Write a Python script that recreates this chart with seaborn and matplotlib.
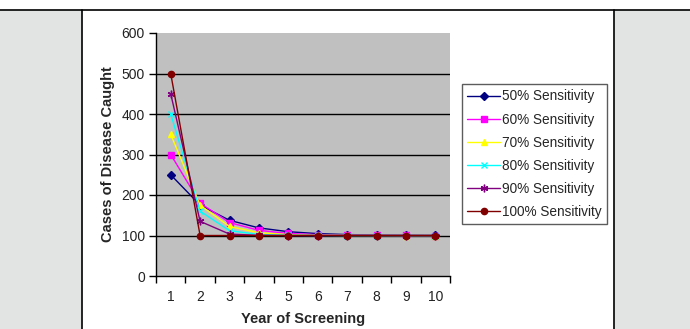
import matplotlib
matplotlib.use("Agg")
import matplotlib.pyplot as plt
import matplotlib.lines as mlines
from matplotlib.patches import Rectangle
import seaborn as sns
import pandas as pd

years = [1, 2, 3, 4, 5, 6, 7, 8, 9, 10]
series_names = ["50% Sensitivity", "60% Sensitivity", "70% Sensitivity",
                "80% Sensitivity", "90% Sensitivity", "100% Sensitivity"]
s50 = [250, 175, 137.5, 118.8, 109.4, 104.7, 102.3, 101.2, 100.6, 100.3]
s60 = [300, 180, 132, 112.8, 105.1, 102.0, 100.8, 100.3, 100.1, 100.0]
s70 = [350, 175, 122.5, 106.8, 102.0, 100.6, 100.2, 100.1, 100.0, 100.0]
s80 = [400, 160, 112, 102.4, 100.5, 100.1, 100.0, 100.0, 100.0, 100.0]
s90 = [450, 135, 103.5, 100.4, 100.0, 100.0, 100.0, 100.0, 100.0, 100.0]
s100 = [500, 100, 100, 100, 100, 100, 100, 100, 100, 100]
y_ticks = [0, 100, 200, 300, 400, 500, 600]

colors = ["#000080", "#FF00FF", "#FFFF00", "#00FFFF", "#800080", "#800000"]
markers = ["D", "s", "^", "x", (6, 2, 0), "o"]
msizes = [4.0, 5.0, 5.0, 4.5, 5.5, 4.5]

sns.set_theme(style="white")
plt.rcParams["font.family"] = ["Liberation Sans", "DejaVu Sans"]

fig = plt.figure(figsize=(6.9, 3.29), dpi=100)
fig.patch.set_facecolor("white")

# decorative page frame (gray side panels and borders)
fig.add_artist(Rectangle((0, 0), 82 / 690, 1 - 10 / 329, transform=fig.transFigure,
                         facecolor="#E1E4E3", edgecolor="none", zorder=0))
fig.add_artist(Rectangle((614 / 690, 0), 1 - 614 / 690, 1 - 10 / 329, transform=fig.transFigure,
                         facecolor="#E1E4E3", edgecolor="none", zorder=0))
fig.add_artist(mlines.Line2D([0, 1], [1 - 10 / 329] * 2, transform=fig.transFigure,
                             color="black", lw=1.2))
fig.add_artist(mlines.Line2D([82 / 690] * 2, [0, 1 - 10 / 329], transform=fig.transFigure,
                             color="black", lw=1.2))
fig.add_artist(mlines.Line2D([614 / 690] * 2, [0, 1 - 10 / 329], transform=fig.transFigure,
                             color="black", lw=1.2))

ax = fig.add_axes([156 / 690, 1 - 276 / 329, (450 - 156) / 690, (276 - 33) / 329])
ax.set_facecolor("#C0C0C0")

for y in y_ticks[1:-1]:
    ax.axhline(y, color="black", lw=1.0, zorder=1)

for name, vals, c, m, ms in zip(series_names, [s50, s60, s70, s80, s90, s100],
                                colors, markers, msizes):
    d = pd.DataFrame({"Year": years, "Cases": vals})
    sns.lineplot(data=d, x="Year", y="Cases", ax=ax, color=c, lw=1.0,
                 marker=m, markersize=ms, markerfacecolor=c, markeredgecolor=c,
                 markeredgewidth=1.0, zorder=3)

ax.set_xlim(0.5, 10.5)
ax.set_ylim(0, 600)
ax.set_yticks(y_ticks)
ax.set_xticks(years)
ax.set_xticks([x + 0.5 for x in range(0, 11)], minor=True)
ax.tick_params(axis="x", which="major", length=0, pad=10, labelsize=10, colors="#222222")
ax.tick_params(axis="x", which="minor", length=5, width=1, direction="out", color="black", bottom=True)
ax.tick_params(axis="y", length=5, width=1, direction="out", color="black", left=True,
               labelsize=10, pad=3, labelcolor="#222222")

for s in ["top", "right"]:
    ax.spines[s].set_visible(False)
for s in ["left", "bottom"]:
    ax.spines[s].set_color("black")
    ax.spines[s].set_linewidth(1.0)

ax.set_xlabel("Year of Screening", fontsize=10.5, fontweight="bold", labelpad=6)
ax.set_ylabel("Cases of Disease Caught", fontsize=10.5, fontweight="bold", labelpad=5)

handles = [mlines.Line2D([], [], color=c, marker=m, markersize=ms, markerfacecolor=c,
                         markeredgecolor=c, lw=1.0, label=n)
           for c, m, ms, n in zip(colors, markers, msizes, series_names)]
leg = fig.legend(handles=handles, loc="upper left",
                 bbox_to_anchor=(462 / 690, 1 - 84 / 329), bbox_transform=fig.transFigure,
                 frameon=True, fancybox=False, fontsize=9.8, handlelength=2.4,
                 handletextpad=0.15, labelspacing=0.67, borderpad=0.4, borderaxespad=0)
leg.get_frame().set_edgecolor("#333333")
leg.get_frame().set_linewidth(1.0)

fig.savefig("out.png", dpi=100)
